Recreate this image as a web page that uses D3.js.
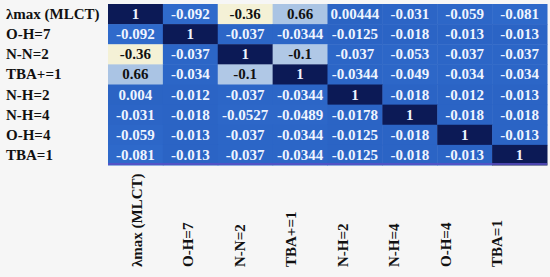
<!DOCTYPE html>
<html>
<head>
<meta charset="utf-8">
<script src="https://cdn.jsdelivr.net/npm/d3@7"></script>
<style>
  body { margin: 0; background: #f6f6f6; }
  svg { display: block; }
  svg text { font-family: "Liberation Serif", "Times New Roman", Times, serif; font-weight: bold; }
</style>
</head>
<body>
<div id="chart-area"></div>
<script>
// DATA
var labels = ["λmax (MLCT)", "O-H=7", "N-N=2", "TBA+=1", "N-H=2", "N-H=4", "O-H=4", "TBA=1"];
var rowLambda = ["1", "-0.092", "-0.36", "0.66", "0.00444", "-0.031", "-0.059", "-0.081"];
var rowOH7    = ["-0.092", "1", "-0.037", "-0.0344", "-0.0125", "-0.018", "-0.013", "-0.013"];
var rowNN2    = ["-0.36", "-0.037", "1", "-0.1", "-0.037", "-0.053", "-0.037", "-0.037"];
var rowTBAp1  = ["0.66", "-0.034", "-0.1", "1", "-0.0344", "-0.049", "-0.034", "-0.034"];
var rowNH2    = ["0.004", "-0.012", "-0.037", "-0.0344", "1", "-0.018", "-0.012", "-0.013"];
var rowNH4    = ["-0.031", "-0.018", "-0.0527", "-0.0489", "-0.0178", "1", "-0.018", "-0.018"];
var rowOH4    = ["-0.059", "-0.013", "-0.037", "-0.0344", "-0.0125", "-0.018", "1", "-0.013"];
var rowTBA1   = ["-0.081", "-0.013", "-0.037", "-0.0344", "-0.0125", "-0.018", "-0.013", "1"];
var rows = [rowLambda, rowOH7, rowNN2, rowTBAp1, rowNH2, rowNH4, rowOH4, rowTBA1];

// SIZE
var width = 550, height = 277;

var svg = d3.select("#chart-area")
    .append("svg")
    .attr("width", width)
    .attr("height", height);

// Scales
var x = d3.scaleBand().domain(labels).range([108, 547]);
var xLabel = d3.scaleBand().domain(labels).range([111, 523]);
var y = d3.scaleBand().domain(labels).range([4, 165]);

var color = d3.scaleLinear()
    .domain([-0.36, -0.1, -0.095, 0, 0.66, 1])
    .range(["#f4f1d6", "#b0c8e6", "#2f6acb", "#2a63c4", "#aac4e4", "#0c1a56"])
    .clamp(true);

// flatten cells
var cells = [];
rows.forEach((r, i) => {
    r.forEach((v, j) => {
        cells.push({ row: labels[i], col: labels[j], text: v, value: +v });
    });
});

// Cells
svg.append("g").selectAll("rect")
    .data(cells)
    .enter().append("rect")
    .attr("x", d => x(d.col))
    .attr("y", d => y(d.row))
    .attr("width", x.bandwidth() + 0.5)
    .attr("height", y.bandwidth() + 0.5)
    .attr("fill", d => color(d.value));

// purple edge under the grid
svg.append("rect")
    .attr("x", x.range()[0])
    .attr("y", y.range()[1] - 2)
    .attr("width", x.range()[1] - x.range()[0])
    .attr("height", 2)
    .attr("fill", "#5b4fc4")
    .attr("opacity", 0.8);

// Cell values
svg.append("g").selectAll("text")
    .data(cells)
    .enter().append("text")
    .attr("x", d => x(d.col) + x.bandwidth() / 2)
    .attr("y", d => y(d.row) + y.bandwidth() / 2 + 5)
    .attr("text-anchor", "middle")
    .attr("font-size", "15px")
    .attr("fill", d => (d.value < -0.099 || (d.value > 0.5 && d.value < 0.9)) ? "#111" : "#eef4ff")
    .text(d => d.text);

// Row labels
svg.append("g").selectAll("text")
    .data(labels)
    .enter().append("text")
    .attr("x", 6)
    .attr("y", d => y(d) + y.bandwidth() / 2 + 5)
    .attr("font-size", "15px")
    .attr("fill", "#111")
    .text(d => d);

// Column labels (rotated)
svg.append("g").selectAll("text")
    .data(labels)
    .enter().append("text")
    .attr("transform", d => "translate(" + (xLabel(d) + xLabel.bandwidth() / 2 + 5) + ",267) rotate(-90)")
    .attr("text-anchor", "start")
    .attr("font-size", "15px")
    .attr("fill", "#111")
    .text(d => d);
</script>
</body>
</html>
